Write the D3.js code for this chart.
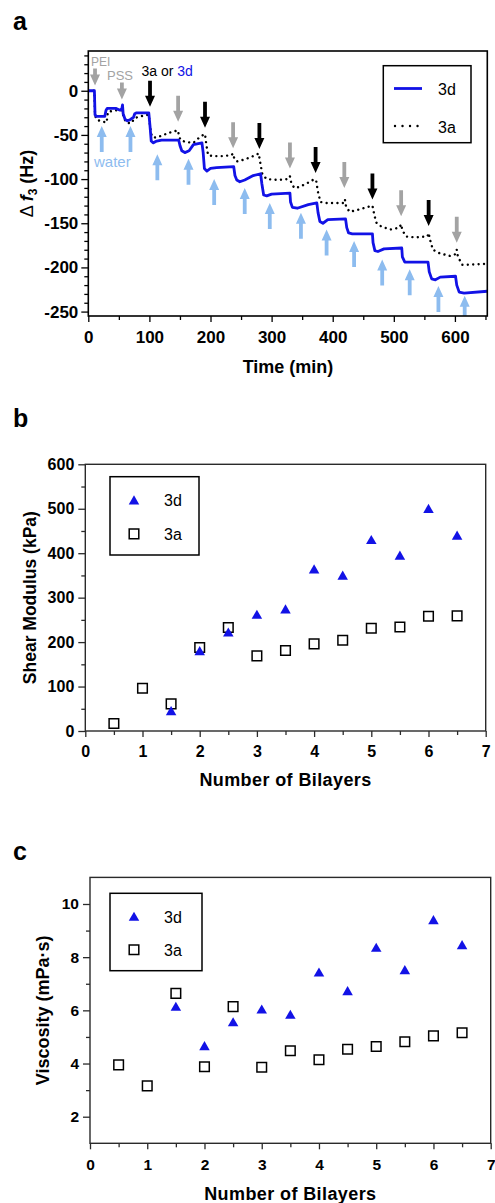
<!DOCTYPE html>
<html>
<head>
<meta charset="utf-8">
<script src="https://cdn.jsdelivr.net/npm/d3@7"></script>
<style>
  body { margin: 0; background: #fff; }
  svg { display: block; font-family: "Liberation Sans", Arial, sans-serif; }
</style>
</head>
<body>
<div id="chart"></div>
<script>
// ---- Panel a: QCM frequency shift vs time ----
// [time (min), delta f3 (Hz)]
const trace3d = [
  [0, 0], [10, 0], [11, -27], [13, -29], [27, -29], [29, -22], [31, -20], [45, -20], [52, -22],
  [55, -20], [56, -16], [57, -26], [60, -32], [64, -34], [68, -33], [74, -30], [76, -26], [79, -25],
  [99, -25], [101, -40], [103, -57], [106, -59], [112, -57], [120, -56], [148, -56], [150, -62],
  [153, -68], [158, -70], [165, -68], [172, -61], [186, -59], [188, -70], [190, -88], [194, -91],
  [200, -88], [210, -87], [238, -86], [240, -96], [243, -101], [248, -103], [256, -101], [270, -96],
  [282, -94], [284, -105], [287, -118], [292, -119], [300, -117], [330, -116], [331, -126],
  [334, -132], [342, -133], [360, -129], [374, -127], [376, -138], [379, -148], [384, -150],
  [392, -146], [421, -145], [423, -155], [426, -161], [432, -162], [465, -162], [466, -172],
  [469, -181], [474, -182], [484, -179], [513, -178], [514, -188], [518, -194], [556, -194],
  [558, -205], [562, -213], [568, -214], [576, -211], [601, -210], [603, -220], [607, -228],
  [615, -229], [653, -227]
];
const trace3a = [
  [0, 0], [10, 0], [11, -28], [14, -33], [30, -36], [32, -24], [45, -22], [55, -22], [58, -30],
  [62, -36], [70, -37], [76, -31], [85, -29], [99, -27], [101, -40], [104, -52], [110, -53],
  [120, -51], [130, -48], [140, -46], [147, -45], [148, -50], [151, -56], [160, -58], [172, -59],
  [180, -54], [188, -50], [191, -49], [193, -60], [196, -73], [205, -74], [220, -74], [234, -73],
  [237, -71], [239, -77], [243, -80], [255, -78], [270, -74], [279, -71], [281, -80], [285, -95],
  [292, -100], [310, -101], [328, -100], [330, -97], [332, -104], [337, -110], [345, -109],
  [360, -104], [370, -100], [373, -102], [376, -115], [380, -126], [390, -127], [418, -127],
  [420, -123], [422, -132], [428, -137], [440, -135], [455, -132], [465, -130], [467, -137],
  [471, -149], [480, -154], [495, -157], [509, -155], [512, -151], [514, -158], [520, -165],
  [535, -166], [555, -165], [557, -161], [559, -168], [564, -180], [575, -184], [592, -187],
  [601, -185], [603, -180], [605, -188], [612, -197], [620, -197], [653, -196]
];
// arrow annotations: [time, tip value]
const polyArrows = [[11, 6], [55, -10], [147, -35], [237, -65], [330, -88], [419, -110], [512, -142], [603, -172]];
const dyeArrows = [[101, -18], [191, -42], [280, -66], [372, -93], [465, -123], [557, -153]];
const waterArrows = [[22, -40], [69, -40], [113, -72], [164, -77], [206, -100], [256, -110], [297, -127],
  [348, -138], [390, -157], [435, -170], [481, -191], [526, -202], [573, -221], [616, -232]];
const timeTicks = [0, 100, 200, 300, 400, 500, 600];
const freqTicks = [-250, -200, -150, -100, -50, 0];

// ---- Panels b and c ----
const bilayers3d = [1.5, 2, 2.5, 3, 3.5, 4, 4.5, 5, 5.5, 6, 6.5];
const bilayers3a = [0.5, 1, 1.5, 2, 2.5, 3, 3.5, 4, 4.5, 5, 5.5, 6, 6.5];
const shear3d = [45, 180, 222, 262, 274, 364, 350, 430, 395, 500, 440];
const shear3a = [17, 96, 61, 188, 233, 169, 181, 196, 204, 231, 234, 258, 259];
const visc3d = [6.14, 4.66, 5.56, 6.04, 5.84, 7.43, 6.73, 8.36, 7.52, 9.4, 8.46];
const visc3a = [3.95, 3.16, 6.64, 3.88, 6.14, 3.86, 4.48, 4.14, 4.54, 4.64, 4.82, 5.04, 5.16];
const bilayerTicks = [0, 1, 2, 3, 4, 5, 6, 7];
const shearTicks = [0, 100, 200, 300, 400, 500, 600];
const viscTicks = [2, 4, 6, 8, 10];

const BLUE = "#1212e6";
const GRAY = "#a3a3a3";
const LIGHTBLUE = "#8dbcef";

const width = 495;
const height = 1203;

const svg = d3.select("#chart").append("svg")
  .attr("width", width)
  .attr("height", height);
svg.append("rect").attr("width", width).attr("height", height).attr("fill", "#fff");

// style an axis group: drop domain, set tick font
function styleAxis(g, fontSize, color) {
  g.select(".domain").remove();
  g.selectAll(".tick line").attr("stroke", color).attr("stroke-width", 1.3);
  g.selectAll(".tick text")
    .attr("fill", "#000")
    .attr("font-size", fontSize)
    .attr("font-weight", "bold")
    .attr("font-family", "'Liberation Sans', Arial, sans-serif");
}

function drawAxes(g, xScale, yScale, opt) {
  const [x0, x1] = xScale.range();
  const [y0, y1] = yScale.range();
  g.append("g").attr("transform", `translate(0,${y0})`)
    .call(d3.axisBottom(xScale).tickValues(opt.xMinor).tickSize(4).tickFormat(""))
    .call(s => styleAxis(s, opt.font, opt.color));
  g.append("g").attr("transform", `translate(0,${y0})`)
    .call(d3.axisBottom(xScale).tickValues(opt.xTicks).tickSize(6).tickPadding(opt.xPad).tickFormat(d => String(d)))
    .call(s => styleAxis(s, opt.font, opt.color));
  g.append("g").attr("transform", `translate(${x0},0)`)
    .call(d3.axisLeft(yScale).tickValues(opt.yMinor).tickSize(4).tickFormat(""))
    .call(s => styleAxis(s, opt.font, opt.color));
  g.append("g").attr("transform", `translate(${x0},0)`)
    .call(d3.axisLeft(yScale).tickValues(opt.yTicks).tickSize(7).tickPadding(opt.yPad).tickFormat(d => String(d)))
    .call(s => styleAxis(s, opt.font, opt.color));
  g.append("rect")
    .attr("x", x0).attr("y", y1)
    .attr("width", x1 - x0).attr("height", y0 - y1)
    .attr("fill", "none").attr("stroke", opt.color).attr("stroke-width", opt.frame);
}

function panelLetter(text, y) {
  svg.append("text").attr("x", 13).attr("y", y)
    .attr("font-size", 25).attr("font-weight", "bold").text(text);
}

// ================= Panel a =================
const xA = d3.scaleLinear().domain([0, 653]).range([88.3, 487.3]);
const yA = d3.scaleLinear().domain([-255, 45]).range([316, 51]);
const gA = svg.append("g").attr("class", "panel-a");

panelLetter("a", 30);

svg.append("clipPath").attr("id", "clipA")
  .append("rect").attr("x", 88.3).attr("y", 51).attr("width", 399).attr("height", 265);

const lineA = d3.line().x(d => xA(d[0])).y(d => yA(d[1]));
const plotA = gA.append("g").attr("clip-path", "url(#clipA)");

plotA.append("path").datum(trace3a)
  .attr("fill", "none").attr("stroke", "#000").attr("stroke-width", 2.4)
  .attr("stroke-linecap", "round").attr("stroke-dasharray", "0.01,5.4")
  .attr("d", lineA);
plotA.append("path").datum(trace3d)
  .attr("fill", "none").attr("stroke", BLUE).attr("stroke-width", 2.8)
  .attr("stroke-linejoin", "round")
  .attr("d", lineA);

// arrow shape with tip at origin, pointing down
function arrowPath(len) {
  const h = 11, hw = 5, sw = 1.9;
  return `M${-sw},${-len}L${sw},${-len}L${sw},${-h}L${hw},${-h}L0,0L${-hw},${-h}L${-sw},${-h}Z`;
}
plotA.selectAll("path.poly-arrow").data(polyArrows).join("path")
  .attr("class", "poly-arrow")
  .attr("fill", GRAY)
  .attr("transform", d => `translate(${xA(d[0])},${yA(d[1])})`)
  .attr("d", (d, i) => arrowPath(i < 2 ? 17 : 26));
plotA.selectAll("path.dye-arrow").data(dyeArrows).join("path")
  .attr("class", "dye-arrow")
  .attr("fill", "#000")
  .attr("transform", d => `translate(${xA(d[0])},${yA(d[1])})`)
  .attr("d", arrowPath(26));
plotA.selectAll("path.water-arrow").data(waterArrows).join("path")
  .attr("class", "water-arrow")
  .attr("fill", LIGHTBLUE)
  .attr("transform", d => `translate(${xA(d[0])},${yA(d[1])}) scale(1,-1)`)
  .attr("d", arrowPath(26));

// annotation labels
plotA.append("text").attr("x", xA(11) - 4).attr("y", 66)
  .attr("font-size", 12).attr("fill", GRAY).text("PEI");
plotA.append("text").attr("x", 107).attr("y", 80)
  .attr("font-size", 13).attr("fill", GRAY).text("PSS");
const dyeLabel = plotA.append("text").attr("x", 141.5).attr("y", 76).attr("font-size", 14);
dyeLabel.append("tspan").attr("fill", "#000").text("3a or ");
dyeLabel.append("tspan").attr("fill", BLUE).text("3d");
plotA.append("text").attr("x", 94).attr("y", 166.5)
  .attr("font-size", 15).attr("fill", LIGHTBLUE).text("water");

drawAxes(gA, xA, yA, {
  xTicks: timeTicks, xMinor: d3.range(50, 653, 100),
  yTicks: freqTicks, yMinor: d3.range(-250, 41, 10).filter(v => v % 50 !== 0),
  font: 17, color: "#000", frame: 1.6, xPad: 9, yPad: 3
});

// legend a
const legA = gA.append("g").attr("class", "legend");
legA.append("rect").attr("x", 383.3).attr("y", 65.7).attr("width", 87.7).attr("height", 77)
  .attr("fill", "#fff").attr("stroke", "#000").attr("stroke-width", 1.5);
legA.append("line").attr("x1", 394).attr("x2", 422).attr("y1", 88.5).attr("y2", 88.5)
  .attr("stroke", BLUE).attr("stroke-width", 2.8);
legA.append("text").attr("x", 438).attr("y", 95).attr("font-size", 16).text("3d");
legA.append("line").attr("x1", 395).attr("x2", 422).attr("y1", 126).attr("y2", 126)
  .attr("stroke", "#000").attr("stroke-width", 2.4)
  .attr("stroke-linecap", "round").attr("stroke-dasharray", "0.01,7.5");
legA.append("text").attr("x", 438).attr("y", 132.5).attr("font-size", 16).text("3a");

gA.append("text").attr("x", 288).attr("y", 373).attr("text-anchor", "middle")
  .attr("font-size", 18).attr("font-weight", "bold").text("Time (min)");
const yLabA = gA.append("text")
  .attr("transform", `translate(33,${(51 + 316) / 2}) rotate(-90)`)
  .attr("text-anchor", "middle").attr("font-size", 18).attr("font-weight", "bold");
yLabA.append("tspan").attr("font-weight", "normal").text("Δ ");
yLabA.append("tspan").attr("font-style", "italic").text("f");
yLabA.append("tspan").attr("font-size", 12).attr("dy", 4).text("3");
yLabA.append("tspan").attr("dy", -4).text(" (Hz)");

// ================= Scatter panels b and c =================
function scatterPanel(cfg) {
  const g = svg.append("g");
  const x = d3.scaleLinear().domain([0, 7]).range(cfg.xRange);
  const y = d3.scaleLinear().domain(cfg.yDomain).range(cfg.yRange);

  drawAxes(g, x, y, {
    xTicks: bilayerTicks, xMinor: d3.range(0.5, 7, 1),
    yTicks: cfg.yTicks, yMinor: cfg.yMinor,
    font: cfg.font, color: "#2a2a2a", frame: 1.4, xPad: cfg.xPad, yPad: 4
  });

  g.selectAll("path.sq").data(d3.zip(bilayers3a, cfg.a)).join("path")
    .attr("class", "sq")
    .attr("d", d3.symbol(d3.symbolSquare, 92))
    .attr("transform", d => `translate(${x(d[0])},${y(d[1])})`)
    .attr("fill", "none").attr("stroke", "#000").attr("stroke-width", 1.5);
  g.selectAll("path.tri").data(d3.zip(bilayers3d, cfg.d)).join("path")
    .attr("class", "tri")
    .attr("d", d3.symbol(d3.symbolTriangle, 48))
    .attr("transform", d => `translate(${x(d[0])},${y(d[1]) + 1.2})`)
    .attr("fill", BLUE);

  // legend
  const L = cfg.legend;
  g.append("rect").attr("x", L.x).attr("y", L.y).attr("width", L.w).attr("height", L.h)
    .attr("fill", "none").attr("stroke", "#000").attr("stroke-width", 1.5);
  g.append("path").attr("d", d3.symbol(d3.symbolTriangle, 48))
    .attr("transform", `translate(${L.x + 24},${L.y + L.h * 0.3 + 1.2})`).attr("fill", BLUE);
  g.append("text").attr("x", L.x + 54).attr("y", L.y + L.h * 0.3 + 6).attr("font-size", 16).text("3d");
  g.append("path").attr("d", d3.symbol(d3.symbolSquare, 92))
    .attr("transform", `translate(${L.x + 24},${L.y + L.h * 0.73})`)
    .attr("fill", "none").attr("stroke", "#000").attr("stroke-width", 1.5);
  g.append("text").attr("x", L.x + 54).attr("y", L.y + L.h * 0.73 + 6).attr("font-size", 16).text("3a");

  const [x0, x1] = cfg.xRange;
  g.append("text").attr("x", (x0 + x1) / 2).attr("y", cfg.xTitleY).attr("text-anchor", "middle")
    .attr("font-size", 18).attr("font-weight", "bold").attr("letter-spacing", 0.4)
    .text("Number of Bilayers");
  g.append("text")
    .attr("transform", `translate(${cfg.yTitleX},${(cfg.yRange[0] + cfg.yRange[1]) / 2}) rotate(-90)`)
    .attr("text-anchor", "middle").attr("font-size", cfg.yTitleSize).attr("font-weight", "bold")
    .text(cfg.yTitle);
}

panelLetter("b", 426.5);
scatterPanel({
  xRange: [85.3, 485.7], yDomain: [0, 600], yRange: [731, 464.3],
  yTicks: shearTicks, yMinor: d3.range(50, 600, 100),
  a: shear3a, d: shear3d, font: 16, xPad: 9,
  legend: { x: 110, y: 476.7, w: 89, h: 78.3 },
  xTitleY: 786, yTitleX: 36, yTitleSize: 17.5, yTitle: "Shear Modulus (kPa)"
});

panelLetter("c", 860);
scatterPanel({
  xRange: [90, 490.7], yDomain: [1, 11], yRange: [1143.3, 877.4],
  yTicks: viscTicks, yMinor: [3, 5, 7, 9],
  a: visc3a, d: visc3d, font: 15.5, xPad: 10,
  legend: { x: 110, y: 893.3, w: 92, h: 77.4 },
  xTitleY: 1200, yTitleX: 48.5, yTitleSize: 18, yTitle: "Viscosity (mPa·s)"
});
</script>
</body>
</html>
